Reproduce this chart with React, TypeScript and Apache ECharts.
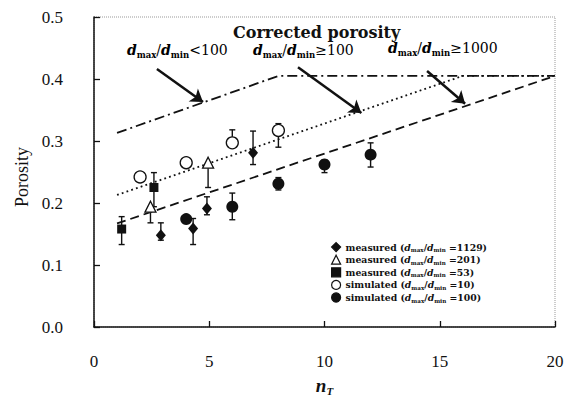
import React, { useEffect, useRef } from "react";
import * as echarts from "echarts";

// ---- data ----
const xTicks = [0, 5, 10, 15, 20];
const yTicks = [0.0, 0.1, 0.2, 0.3, 0.4, 0.5];

const measured1129 = [[2.9, 0.148], [4.3, 0.159], [4.9, 0.191], [6.9, 0.281]];
const err1129 = [[2.9, 0.14, 0.168], [4.3, 0.133, 0.175], [4.9, 0.181, 0.21], [6.9, 0.262, 0.316]];
const measured201 = [[2.45, 0.194], [4.95, 0.265]];
const err201 = [[2.45, 0.168, 0.194], [4.95, 0.225, 0.265]];
const measured53 = [[1.2, 0.158], [2.6, 0.225]];
const err53 = [[1.2, 0.133, 0.178], [2.6, 0.194, 0.249]];
const simulated10 = [[2.0, 0.242], [4.0, 0.265], [6.0, 0.297], [8.0, 0.317]];
const err10 = [[6.0, 0.297, 0.318], [8.0, 0.29, 0.328]];
const simulated100 = [[4.0, 0.174], [6.0, 0.194], [8.0, 0.231], [10.0, 0.262], [12.0, 0.278]];
const err100 = [[6.0, 0.173, 0.216], [8.0, 0.221, 0.241], [10.0, 0.249, 0.269], [12.0, 0.258, 0.297]];

const curveLt100 = [[1, 0.313], [8, 0.405], [20, 0.405]];
const curveGe100 = [[1, 0.213], [16, 0.405], [20, 0.405]];
const curveGe1000 = [[1, 0.167], [20, 0.405]];

const arrowLt100 = [[2.73, 0.416], [4.73, 0.363]];
const arrowGe100 = [[8.85, 0.419], [11.6, 0.345]];
const arrowGe1000 = [[14.45, 0.413], [16.1, 0.36]];

const legendNames = ["m1129", "m201", "m53", "s10", "s100"];
const legendLabels: Record<string, [string, string]> = {
  m1129: ["measured", "1129"],
  m201: ["measured", "201"],
  m53: ["measured", "53"],
  s10: ["simulated", "10"],
  s100: ["simulated", "100"],
};

const SERIF = "'Liberation Serif', 'Times New Roman', Times, serif";
const WIDE = "'DejaVu Serif', serif";

export default function App() {
  const ref = useRef<HTMLDivElement>(null);
  useEffect(() => {
    if (!ref.current) return;
    const chart = echarts.init(ref.current, null, { renderer: "svg" });

    const errAll = [...err1129, ...err201, ...err53, ...err10, ...err100];

    const ratioRich = {
      d: { fontFamily: WIDE, fontSize: 14, fontStyle: "italic", fontWeight: "bold", color: "#111", lineHeight: 18 },
      s: { fontFamily: WIDE, fontSize: 8.5, fontWeight: "bold", color: "#111", lineHeight: 10, verticalAlign: "bottom" },
      t: { fontFamily: WIDE, fontSize: 14, color: "#111", lineHeight: 18 },
    };

    const legRich = {
      a: { fontFamily: WIDE, fontSize: 9.3, fontWeight: "bold", color: "#111", lineHeight: 12 },
      d: { fontFamily: WIDE, fontSize: 9.3, fontStyle: "italic", fontWeight: "bold", color: "#111", lineHeight: 12 },
      s: { fontFamily: WIDE, fontSize: 5.6, fontWeight: "bold", color: "#111", lineHeight: 7, verticalAlign: "bottom" },
    };

    const lineSeries = (data: number[][], type: any) => ({
      type: "line",
      data,
      symbol: "none",
      silent: true,
      lineStyle: { color: "#111", width: 1.8, type },
      z: 1,
    });

    const arrow = (coords: number[][]) => ({
      type: "lines",
      coordinateSystem: "cartesian2d",
      symbol: ["none", "arrow"],
      symbolSize: 12,
      silent: true,
      lineStyle: { color: "#111", width: 2.5, opacity: 1 },
      data: [{ coords }],
      z: 3,
    });

    const scatter = (name: string, data: number[][], symbol: string, size: any, open: boolean) => ({
      type: "scatter",
      name,
      data,
      symbol,
      symbolSize: size,
      itemStyle: open
        ? { color: "#fff", borderColor: "#111", borderWidth: 1.3, opacity: 1 }
        : { color: "#111", borderColor: "#111", borderWidth: 0, opacity: 1 },
      z: 5,
    });

    chart.setOption({
      animation: false,
      backgroundColor: "#fff",
      grid: {
        left: 94,
        right: 14,
        top: 17,
        bottom: 69,
        show: true,
        borderColor: "#999",
        borderWidth: 1,
        borderType: "dotted",
      } as any,
      xAxis: {
        type: "value",
        min: xTicks[0],
        max: xTicks[xTicks.length - 1],
        interval: 5,
        name: "{n|n}{T|T}",
        nameLocation: "middle",
        nameGap: 47,
        nameTextStyle: {
          rich: {
            n: { fontFamily: SERIF, fontSize: 19, fontStyle: "italic", fontWeight: "bold", color: "#111", lineHeight: 22 },
            T: { fontFamily: SERIF, fontSize: 11, fontStyle: "italic", fontWeight: "bold", color: "#111", lineHeight: 12, verticalAlign: "bottom" },
          },
        },
        axisLine: { show: true, lineStyle: { color: "#111", width: 1.5 } },
        axisTick: { show: true, inside: true, length: 6, lineStyle: { color: "#111", width: 1.3 } },
        splitLine: { show: false },
        axisLabel: { margin: 26, fontFamily: SERIF, fontSize: 17, color: "#111" },
      },
      yAxis: {
        type: "value",
        min: yTicks[0],
        max: yTicks[yTicks.length - 1],
        interval: 0.1,
        name: "Porosity",
        nameLocation: "middle",
        nameRotate: 90,
        nameGap: 62,
        nameTextStyle: { fontFamily: SERIF, fontSize: 18, color: "#111", padding: [0, 0, 0, -10] },
        axisLine: { show: true, lineStyle: { color: "#111", width: 1.5 } },
        axisTick: { show: true, inside: true, length: 6, lineStyle: { color: "#111", width: 1.3 } },
        splitLine: { show: false },
        axisLabel: {
          margin: 31,
          fontFamily: SERIF,
          fontSize: 17,
          color: "#111",
          formatter: (v: number) => v.toFixed(1),
        },
      },
      legend: {
        orient: "vertical",
        left: 326,
        top: 237,
        itemWidth: 9,
        itemHeight: 9,
        itemGap: 1.5,
        itemStyle: { borderWidth: 1.2 },
        data: legendNames,
        selectedMode: false,
        formatter: (name: string) => {
          const [kind, val] = legendLabels[name];
          return `{a|${kind} (}{d|d}{s|max}{a|/}{d|d}{s|min}{a| =${val})}`;
        },
        textStyle: { rich: legRich },
      },
      graphic: [
        {
          type: "text",
          left: 233,
          top: 24,
          style: { text: "Corrected porosity", fontFamily: WIDE, fontSize: 16, fontWeight: "bold", fill: "#111" },
        },
        {
          type: "text",
          left: 127,
          top: 43,
          style: { text: "{d|d}{s|max}{t|/}{d|d}{s|min}{t|<100}", rich: ratioRich },
        },
        {
          type: "text",
          left: 253,
          top: 43,
          style: { text: "{d|d}{s|max}{t|/}{d|d}{s|min}{t|≥100}", rich: ratioRich },
        },
        {
          type: "text",
          left: 388,
          top: 41,
          style: { text: "{d|d}{s|max}{t|/}{d|d}{s|min}{t|≥1000}", rich: ratioRich },
        },
      ],
      series: [
        lineSeries(curveLt100, [10, 4, 2, 4]),
        lineSeries(curveGe100, [1.8, 3.2]),
        lineSeries(curveGe1000, [9, 5]),
        arrow(arrowLt100),
        arrow(arrowGe100),
        arrow(arrowGe1000),
        {
          type: "custom",
          silent: true,
          data: errAll,
          encode: { x: 0, y: [1, 2] },
          z: 4,
          renderItem: (params: any, api: any) => {
            const x = api.value(0);
            const lo = api.coord([x, api.value(1)]);
            const hi = api.coord([x, api.value(2)]);
            const cap = 3;
            const st = { stroke: "#111", lineWidth: 1.4 };
            return {
              type: "group",
              children: [
                { type: "line", shape: { x1: lo[0], y1: lo[1], x2: hi[0], y2: hi[1] }, style: st },
                { type: "line", shape: { x1: lo[0] - cap, y1: lo[1], x2: lo[0] + cap, y2: lo[1] }, style: st },
                { type: "line", shape: { x1: hi[0] - cap, y1: hi[1], x2: hi[0] + cap, y2: hi[1] }, style: st },
              ],
            };
          },
        },
        scatter("m1129", measured1129, "diamond", [10, 12], false),
        scatter("m201", measured201, "triangle", 11, true),
        scatter("m53", measured53, "rect", 9, false),
        scatter("s10", simulated10, "circle", 12, true),
        scatter("s100", simulated100, "circle", 12, false),
      ],
    } as any);

    return () => chart.dispose();
  }, []);

  return <div ref={ref} style={{ width: 569, height: 401, position: "absolute", left: 0, top: 0 }} />;
}
